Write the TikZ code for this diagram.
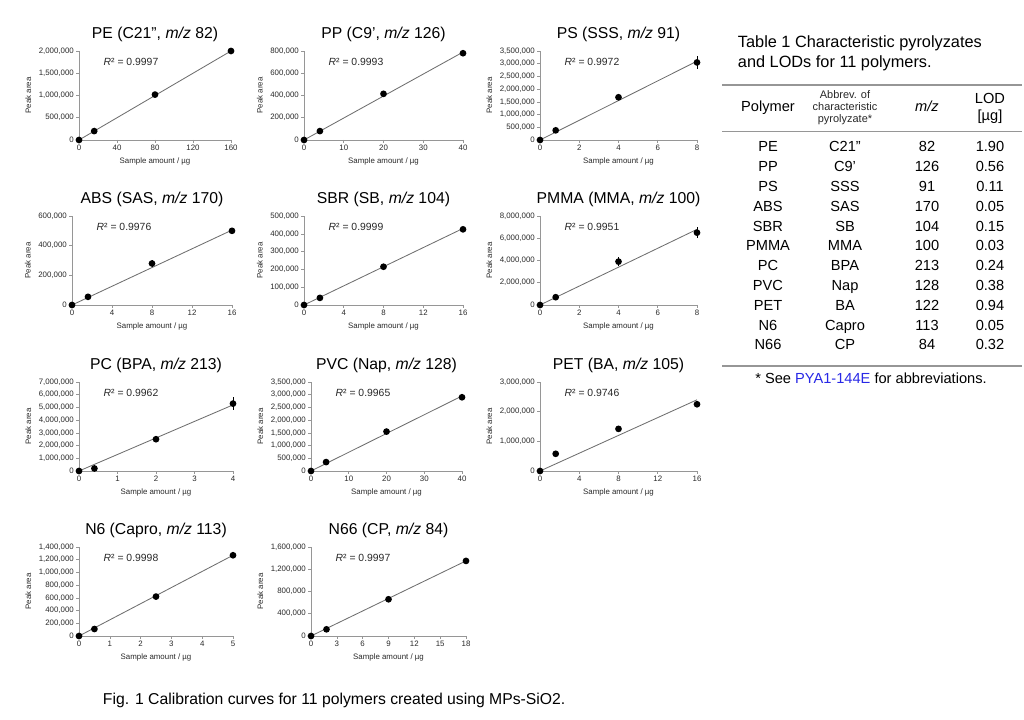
\documentclass[tikz,border=0pt]{standalone}
\usepackage{fontspec}
\setmainfont{Liberation Sans}
\definecolor{fitc}{RGB}{110,110,110}
\definecolor{axc}{RGB}{150,150,150}
\definecolor{txc}{RGB}{40,40,40}
\definecolor{linkc}{RGB}{40,40,230}

% y tick label, value given in units of 100,000
\newcommand\ylab[1]{\pgfmathtruncatemacro\yv{#1}\pgfmathtruncatemacro\ym{\yv/10}%
  \pgfmathtruncatemacro\yr{\yv-10*\ym}%
  \ifnum\yv=0 0\else\ifnum\ym>0 \ym,\fi\yr00,000\fi}

% axes of one calibration plot: xmax, xstep, ymax, ystep, title, R2
\newcommand\calaxes[6]{%
  \draw[ax] (0,0) -- (#1,0);
  \draw[ax] (0,0) -- (0,#3);
  \foreach \x in {0,#2,...,#1}
    \draw[ax] (\x,0) -- ++(0,-2pt) node[tick,below] {\x};
  \foreach \v in {0,#4,...,#3}
    \draw[ax] (0,\v) -- ++(-2pt,0) node[tick,left] (yl\v) {\ylab{\v}};
  \node[tick,rotate=90,anchor=south] at ([xshift=-2pt]yl#3.west |- 0,#3/2) {Peak area};
  \node[tick] at ([yshift=-15pt]#1/2,0) {Sample amount / µg};
  \node[ttl] at ([yshift=12pt]#1/2,#3) {#5};
  \node[rsq] at ([xshift=14pt,yshift=-8pt]0,#3) {\textit{R}² = #6};
}

\begin{document}
\begin{tikzpicture}[
    x=0.025cm, y=-0.025cm,
    ax/.style={line width=0.4pt, color=axc},
    tick/.style={font=\fontsize{5.6}{6}\selectfont, inner sep=1.5pt, text=txc},
    ttl/.style={font=\fontsize{11.2}{13}\selectfont},
    rsq/.style={font=\fontsize{7.4}{8}\selectfont, anchor=west, text=txc},
    pt/.style={fill=black},
    fit/.style={line width=0.6pt, color=fitc},
    eb/.style={line width=0.5pt},
    pane/.style n args={5}{shift={(#1,#2)}, x={({0.025cm*#3/#4},0)}, y={(0,{0.025cm*89/#5})}},
    tb/.style={font=\fontsize{10.4}{11}\selectfont, text height=7.5pt, text depth=2pt},
    hd/.style={font=\fontsize{7.8}{8.5}\selectfont, align=center, text=txc}
]
\useasboundingbox (0,0) rectangle (1024,720);

% row 1
\begin{scope}[pane={79}{140}{152}{160}{20}]
\calaxes{160}{40}{20}{5}{PE (C21'', \textit{m/z} 82)}{0.9997}
\draw[fit] (0,0) -- (160,20);
\foreach \px/\py in {0/0,16/2,80/10.2,160/20} \fill[pt] (\px,\py) circle (2.4pt);
\end{scope}

\begin{scope}[pane={304}{140}{159}{40}{8}]
\calaxes{40}{10}{8}{2}{PP (C9', \textit{m/z} 126)}{0.9993}
\draw[fit] (0,0) -- (40,7.9);
\foreach \px/\py in {0/0,4/0.8,20/4.15,40/7.8} \fill[pt] (\px,\py) circle (2.4pt);
\end{scope}

\begin{scope}[pane={540}{140}{157}{8}{35}]
\calaxes{8}{2}{35}{5}{PS (SSS, \textit{m/z} 91)}{0.9972}
\draw[fit] (0,0) -- (8,31);
\draw[eb] (8,28) -- (8,33);
\foreach \px/\py in {0/0,0.8/3.8,4/16.8,8/30.5} \fill[pt] (\px,\py) circle (2.4pt);
\end{scope}

% row 2
\begin{scope}[pane={72}{305}{160}{16}{6}]
\calaxes{16}{4}{6}{2}{ABS (SAS, \textit{m/z} 170)}{0.9976}
\draw[fit] (0,0) -- (16,5.05);
\draw[eb] (8,2.55) -- (8,3.05);
\foreach \px/\py in {0/0,1.6/0.55,8/2.8,16/5} \fill[pt] (\px,\py) circle (2.4pt);
\end{scope}

\begin{scope}[pane={304}{305}{159}{16}{5}]
\calaxes{16}{4}{5}{1}{SBR (SB, \textit{m/z} 104)}{0.9999}
\draw[fit] (0,0) -- (16,4.3);
\foreach \px/\py in {0/0,1.6/0.4,8/2.15,16/4.25} \fill[pt] (\px,\py) circle (2.4pt);
\end{scope}

\begin{scope}[pane={540}{305}{157}{8}{80}]
\calaxes{8}{2}{80}{20}{PMMA (MMA, \textit{m/z} 100)}{0.9951}
\draw[fit] (0,0) -- (8,68);
\draw[eb] (8,60) -- (8,70);
\draw[eb] (4,35) -- (4,43);
\foreach \px/\py in {0/0,0.8/7,4/39,8/65} \fill[pt] (\px,\py) circle (2.4pt);
\end{scope}

% row 3
\begin{scope}[pane={79}{471}{154}{4}{70}]
\calaxes{4}{1}{70}{10}{PC (BPA, \textit{m/z} 213)}{0.9962}
\draw[fit] (0,0) -- (4,52);
\draw[eb] (4,48) -- (4,58);
\foreach \px/\py in {0/0,0.4/2,2/25,4/53} \fill[pt] (\px,\py) circle (2.4pt);
\end{scope}

\begin{scope}[pane={311}{471}{151}{40}{35}]
\calaxes{40}{10}{35}{5}{PVC (Nap, \textit{m/z} 128)}{0.9965}
\draw[fit] (0,0) -- (40,29.5);
\foreach \px/\py in {0/0,4/3.5,20/15.5,40/29} \fill[pt] (\px,\py) circle (2.4pt);
\end{scope}

\begin{scope}[pane={540}{471}{157}{16}{30}]
\calaxes{16}{4}{30}{10}{PET (BA, \textit{m/z} 105)}{0.9746}
\draw[fit] (0,0) -- (16,24);
\foreach \px/\py in {0/0,1.6/5.8,8/14.2,16/22.5} \fill[pt] (\px,\py) circle (2.4pt);
\end{scope}

% row 4
\begin{scope}[pane={79}{636}{154}{5}{14}]
\calaxes{5}{1}{14}{2}{N6 (Capro, \textit{m/z} 113)}{0.9998}
\draw[fit] (0,0) -- (5,12.7);
\foreach \px/\py in {0/0,0.5/1.1,2.5/6.2,5/12.7} \fill[pt] (\px,\py) circle (2.4pt);
\end{scope}

\begin{scope}[pane={311}{636}{155}{18}{16}]
\calaxes{18}{3}{16}{4}{N66 (CP, \textit{m/z} 84)}{0.9997}
\draw[fit] (0,0) -- (18,13.5);
\foreach \px/\py in {0/0,1.8/1.2,9/6.6,18/13.5} \fill[pt] (\px,\py) circle (2.4pt);
\end{scope}

\node[ttl, anchor=west] (cap) at (98,700) {Fig. 1 Calibration curves for 11 polymers created using MPs-SiO2.};

% table
\node[ttl, anchor=west, align=left, font=\fontsize{11.6}{14}\selectfont] (tcap) at (733,53) {Table 1 Characteristic pyrolyzates\\and LODs for 11 polymers.};
\coordinate (r0) at (722,85);
\coordinate (r1) at (722,131);
\coordinate (r2) at (722,366);
\draw[line width=0.9pt, color=axc] (r0) -- ++(300,0);
\draw[line width=0.6pt, color=axc] (r1) -- ++(300,0);
\draw[line width=0.9pt, color=axc] (r2) -- ++(300,0);
\node[tb] (hpol) at (768,108) {Polymer};
\node[hd] (habb) at (845,108) {Abbrev. of\\characteristic\\pyrolyzate*};
\node[tb] (hmz) at (927,108) {\textit{m/z}};
\node[font=\fontsize{10.4}{12}\selectfont, align=center] (hlod) at (990,108) {LOD\\{[µg]}};
\foreach \p/\a/\m/\l [count=\i] in {PE/C21''/82/1.90, PP/C9'/126/0.56, PS/SSS/91/0.11,
    ABS/SAS/170/0.05, SBR/SB/104/0.15, PMMA/MMA/100/0.03, PC/BPA/213/0.24,
    PVC/Nap/128/0.38, PET/BA/122/0.94, N6/Capro/113/0.05, N66/CP/84/0.32} {
  \node[tb] (p\i) at (768,{148+19.8*(\i-1)}) {\p};
  \node[tb] (a\i) at (845,{148+19.8*(\i-1)}) {\a};
  \node[tb] (m\i) at (927,{148+19.8*(\i-1)}) {\m};
  \node[tb] (l\i) at (990,{148+19.8*(\i-1)}) {\l};
}
\node[tb] (note) at (871,380) {* See \textcolor{linkc}{PYA1-144E} for abbreviations.};
\end{tikzpicture}
\end{document}
